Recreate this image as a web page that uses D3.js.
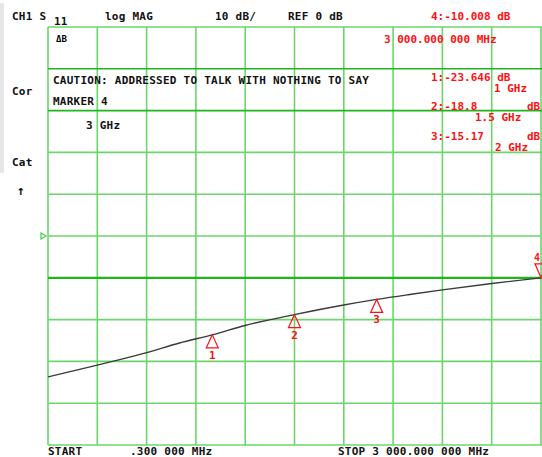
<!DOCTYPE html>
<html><head><meta charset="utf-8">
<script src="https://cdn.jsdelivr.net/npm/d3@7/dist/d3.min.js"></script>
<style>
html,body{margin:0;padding:0;background:#fff;}
svg{display:block;}
text{font-family:"DejaVu Sans Mono","Liberation Mono",monospace;font-weight:bold;}
</style></head>
<body>
<svg id="c" width="542" height="457"></svg>
<script>
// ---- data ----
const startMHz = 0.3, stopMHz = 3000;
const refDb = 0, dbPerDiv = 10, divisions = 10, refPosDiv = 5; // ref 0 dB at 5 div from top
const traceFreq = [0.3, 300, 600, 800, 1000, 1200, 1500, 1800, 2000, 2200, 2400, 2700, 3000];
const traceDb   = [-33.7, -30.9, -27.9, -25.6, -23.646, -21.4, -18.8, -16.5, -15.17, -14.0, -12.9, -11.35, -10.008];
const markerFreq = [1000, 1500, 2000];
const markerDb   = [-23.646, -18.8, -15.17];
const markerName = ["1", "2", "3"];
const activeMarkerFreq = 3000, activeMarkerDb = -10.008;
const thickLineDb = -10;
const darkLinesDb = [40, 30];

const blackTexts = [
  ["CH1 S", 12, 20], ["11", 54, 25], ["log MAG", 105, 20], ["10 dB/", 215, 20], ["REF 0 dB", 288, 20],
  ["CAUTION: ADDRESSED TO TALK WITH NOTHING TO SAY", 53, 84], ["MARKER 4", 53, 105], ["3 GHz", 86, 129],
  ["Cor", 12, 95], ["Cat", 12, 166],
  ["START", 48, 455], [".300 000 MHz", 130, 455], ["STOP 3 000.000 000 MHz", 338, 455]
];
const redTexts = [
  ["4:-10.008 dB", 431, 20], ["3 000.000 000 MHz", 384, 43],
  ["1:-23.646 dB", 431, 81], ["1 GHz", 494, 92],
  ["2:-18.8", 431, 110], ["dB", 527, 110], ["1.5 GHz", 475, 121],
  ["3:-15.17", 431, 140], ["dB", 527, 140], ["2 GHz", 495, 151]
];

// ---- layout ----
const L = 48, R = 541, T = 27, B = 445;
const svg = d3.select("#c");
const x = d3.scaleLinear().domain([startMHz, stopMHz]).range([L, R]);
const topDb = refDb + refPosDiv * dbPerDiv, botDb = topDb - divisions * dbPerDiv;
const y = d3.scaleLinear().domain([topDb, botDb]).range([T, B]);

// left gray strip
svg.append("rect").attr("x", 0).attr("y", 3).attr("width", 4).attr("height", 170).attr("fill", "#e6e6e6");

// grid
const xTicks = d3.range(divisions + 1).map(i => startMHz + i * (stopMHz - startMHz) / divisions);
const yTicks = d3.range(divisions + 1).map(i => topDb - i * dbPerDiv);
const gridColor = "#6cd66c", darkColor = "#1fb51f";
svg.append("g").selectAll("line").data(xTicks).join("line")
  .attr("x1", d => x(d)).attr("x2", d => x(d)).attr("y1", T).attr("y2", B)
  .attr("stroke", gridColor).attr("stroke-width", 1.6);
svg.append("g").selectAll("line").data(yTicks).join("line")
  .attr("x1", L).attr("x2", R + 2).attr("y1", d => y(d)).attr("y2", d => y(d))
  .attr("stroke", d => (darkLinesDb.includes(d) ? darkColor : gridColor))
  .attr("stroke-width", 1.6);
svg.append("line").attr("x1", L).attr("x2", R + 2).attr("y1", y(thickLineDb)).attr("y2", y(thickLineDb))
  .attr("stroke", darkColor).attr("stroke-width", 2.2);

// reference position indicator
const ry = y(refDb);
svg.append("path").attr("d", `M${L - 7},${ry - 3}L${L - 2},${ry}L${L - 7},${ry + 3}Z`)
  .attr("fill", "none").attr("stroke", "#44cc44").attr("stroke-width", 1.2);

// trace
const pts = traceFreq.map((f, i) => [x(f), y(traceDb[i])]);
svg.append("path").attr("d", d3.line().curve(d3.curveMonotoneX)(pts)).attr("fill", "none")
  .attr("stroke", "#3a3a3a").attr("stroke-width", 1.4);

// markers
const red = "#ff1010";
markerFreq.forEach((f, i) => {
  const mx = x(f), my = y(markerDb[i]);
  svg.append("path").attr("d", `M${mx},${my}L${mx - 6},${my + 13}L${mx + 6},${my + 13}Z`)
    .attr("fill", "none").attr("stroke", red).attr("stroke-width", 1.2);
  svg.append("text").attr("x", mx).attr("y", my + 24).attr("text-anchor", "middle")
    .attr("font-size", 11).attr("fill", red).text(markerName[i]);
});
{
  const mx = x(activeMarkerFreq), my = y(activeMarkerDb);
  svg.append("path").attr("d", `M${mx},${my}L${mx - 6},${my - 14}L${mx + 6},${my - 14}Z`)
    .attr("fill", "none").attr("stroke", red).attr("stroke-width", 1.2);
  svg.append("text").attr("x", mx - 7).attr("y", my - 17)
    .attr("font-size", 10).attr("fill", red).text("4");
}

// delta icon
svg.append("text").attr("x", 56).attr("y", 42).attr("font-size", 9).attr("fill", "#000").text("ΔB");

// texts
svg.append("g").selectAll("text").data(blackTexts).join("text")
  .attr("x", d => d[1]).attr("y", d => d[2]).attr("font-size", 11).attr("letter-spacing", 0.25)
  .attr("fill", "#111").text(d => d[0]);
svg.append("g").selectAll("text").data(redTexts).join("text")
  .attr("x", d => d[1]).attr("y", d => d[2]).attr("font-size", 11)
  .attr("fill", red).text(d => d[0]);
svg.append("text").attr("x", 17).attr("y", 195).attr("font-size", 13).attr("font-weight", "normal").attr("fill", "#111").text("↑");
</script>
</body></html>
